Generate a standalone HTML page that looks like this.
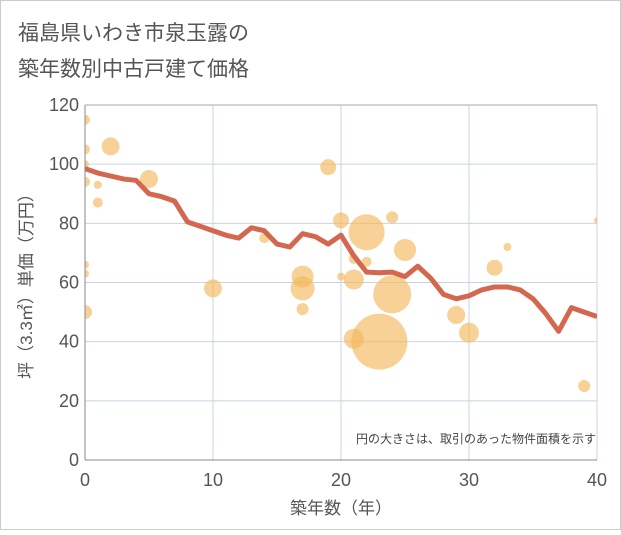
<!DOCTYPE html>
<html><head><meta charset="utf-8"><style>
body{margin:0;background:#fff;font-family:"Liberation Sans","Noto Sans CJK JP",sans-serif}
</style></head><body>
<svg width="621" height="530" xmlns="http://www.w3.org/2000/svg" id="c">
<defs><clipPath id="pc"><rect x="85" y="105" width="512" height="355"/></clipPath></defs>
<rect x="0.5" y="0.5" width="620" height="529" fill="#fff" stroke="#ccc"/>
<text x="18" y="40" font-size="21" fill="#555">福島県いわき市泉玉露の</text>
<text x="18" y="76" font-size="21" fill="#555">築年数別中古戸建て価格</text>
<g id="grid"></g><g id="bub" clip-path="url(#pc)"></g><g id="ln" clip-path="url(#pc)"></g><g id="ax"></g>
<text x="596" y="443" font-size="12" fill="#444" text-anchor="end">円の大きさは、取引のあった物件面積を示す</text>
<text x="341" y="514" font-size="17" fill="#555" text-anchor="middle">築年数（年）</text>
<text transform="translate(32,282) rotate(-90)" font-size="17" fill="#555" text-anchor="middle">坪（3.3㎡）単価（万円）</text>
</svg>
<script>
const xTicks=[0,10,20,30,40];
const yTicks=[0,20,40,60,80,100,120];
const lineYears=[0,1,2,3,4,5,6,7,8,9,10,11,12,13,14,15,16,17,18,19,20,21,22,23,24,25,26,27,28,29,30,31,32,33,34,35,36,37,38,39,40];
const lineValues=[98.5,97,96,95,94.5,90,89,87.5,80.5,79,77.5,76,75,78.5,77.5,73,72,76.5,75.5,73,76,69,63.5,63.3,63.5,62,65.5,61.5,56,54.5,55.5,57.5,58.5,58.5,57.5,54.5,49.5,43.5,51.5,50,48.5];
const bubX=[0,0,0,0,0,0,0,1,1,2,5,10,14,17,17,17,19,20,20,21,21,21,22,22,23,24,24,25,30,29,32,33,39,40];
const bubY=[115,105,100,94,66,63,50,93,87,106,95,58,75,62,58,51,99,81,62,68,61,41,77,67,40,56,82,71,43,49,65,72,25,81];
const bubR=[5,5,4,5,4,4,7,4,5,9,9,9,5,11,12,6,8,8,4,5,10,10,18,5,28,19,6,11,10,9,8,4,6,3];
const X0=85,X1=597,Y0=460,Y1=105;
const sx=v=>X0+(v-0)/(40-0)*(X1-X0), sy=v=>Y0-v/120*(Y0-Y1);
const NS="http://www.w3.org/2000/svg";
function mk(t,a,p){const e=document.createElementNS(NS,t);for(const k in a)e.setAttribute(k,a[k]);p.appendChild(e);return e;}
const g=document.getElementById('grid'),ax=document.getElementById('ax');
xTicks.forEach(t=>{const l=mk('line',{x1:sx(t),x2:sx(t),y1:Y1,y2:Y0,stroke:'#c8d4e0','stroke-width':1},g);


const tx=mk('text',{x:sx(t),y:Y0+26,'font-size':18,fill:'#555','text-anchor':'middle'},ax);tx.textContent=t;

});
yTicks.forEach(t=>{const l=mk('line',{x1:X0,x2:X1,y1:sy(t),y2:sy(t),stroke:'#c8d4e0','stroke-width':1},g);


const tx=mk('text',{x:X0-6,y:sy(t)+6,'font-size':18,fill:'#555','text-anchor':'end'},ax);tx.textContent=t;

});
const a1=mk('line',{x1:X0,x2:X0,y1:Y1,y2:Y0,stroke:'#888'},ax);


const a2=mk('line',{x1:X0,x2:X1,y1:Y0,y2:Y0,stroke:'#888'},ax);


const a3=mk('line',{x1:X0,x2:X1,y1:Y1,y2:Y1,stroke:'#aaa'},ax);


const b=document.getElementById('bub');
bubX.forEach((x,i)=>{const c=mk('circle',{cx:sx(x),cy:sy(bubY[i]),r:bubR[i],fill:'#f2b85c','fill-opacity':0.65},b);

});
const p=mk('polyline',{points:lineYears.map((x,i)=>sx(x)+','+sy(lineValues[i])).join(' '),fill:'none',stroke:'#d4674f','stroke-width':5,'stroke-linejoin':'round'},document.getElementById('ln'));


</script>
</body></html>
